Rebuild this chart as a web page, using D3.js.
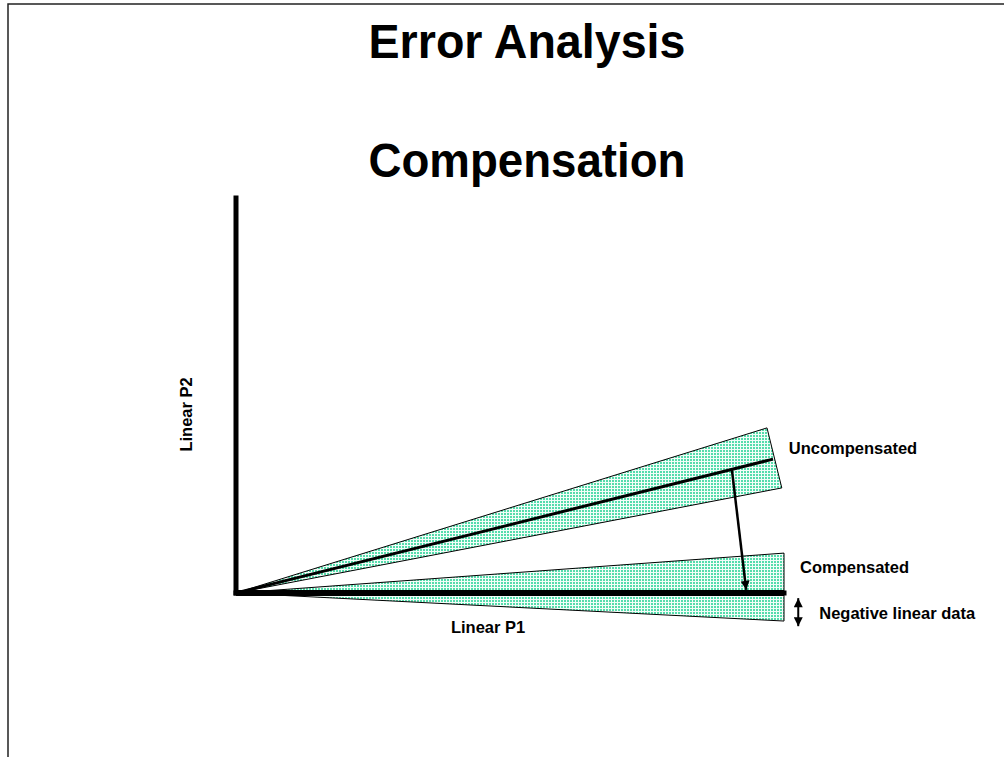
<!DOCTYPE html>
<html>
<head>
<meta charset="utf-8">
<script src="https://cdn.jsdelivr.net/npm/d3@7"></script>
<style>
    body { margin: 0; background: #fff; }
    text { font-family: "Liberation Sans", Arial, sans-serif; font-weight: bold; fill: #000; }
</style>
</head>
<body>
<div id="wrapper"></div>
<script>
// values, in chart units (P1 across, P2 up)
const titleLines = ["Error Analysis", "Compensation"];
const axisNames = ["Linear P1", "Linear P2"];
const axisX = [[0, 0], [100, 0]];
const axisY = [[0, 0], [0, 100]];
const uncompCenter = [[0, 0], [98.0, 33.9]];
const uncompBand = [[0, 0], [96.9, 41.8], [99.6, 26.6]];
const compCenter = [[0, 0], [100, 0]];
const compBand = [[0, 0], [100, 10.1], [100, -7.1]];
const shiftArrow = [[90.5, 31.1], [93.1, 0.8]];
const spreadArrow = [[102.6, -1.3], [102.6, -8.4]];
const bandLabels = ["Uncompensated", "Compensated", "Negative linear data"];

function build() {
    var dimension = {
        width: 1004,
        height: 757,
        margin: { top: 198, right: 220, bottom: 164, left: 236 }
    }

    const x = d3.scaleLinear()
        .domain([0, 100])
        .range([dimension.margin.left, dimension.width - dimension.margin.right]);

    const y = d3.scaleLinear()
        .domain([0, 100])
        .range([dimension.height - dimension.margin.bottom, dimension.margin.top]);

    const line = d3.line().x(d => x(d[0])).y(d => y(d[1]));

    const svg = d3.select("#wrapper")
        .append("svg")
        .attr("width", dimension.width)
        .attr("height", dimension.height);

    const defs = svg.append("defs");

    // stipple fill of the bands
    const pat = defs.append("pattern")
        .attr("id", "dots")
        .attr("patternUnits", "userSpaceOnUse")
        .attr("width", 3)
        .attr("height", 3);
    pat.append("rect").attr("width", 3).attr("height", 3).attr("fill", "#f2fdf8");
    pat.append("rect").attr("width", 2).attr("height", 2).attr("fill", "#55dcac");

    defs.append("marker")
        .attr("id", "head")
        .attr("viewBox", "0 0 10 10")
        .attr("refX", 10)
        .attr("refY", 5)
        .attr("markerWidth", 11)
        .attr("markerHeight", 9)
        .attr("markerUnits", "userSpaceOnUse")
        .attr("orient", "auto-start-reverse")
        .append("path")
        .attr("d", "M0,0 L10,5 L0,10 z")
        .attr("fill", "#000");

    // page frame
    svg.append("path")
        .attr("d", `M8,${dimension.height + 5} L8,4 L${dimension.width + 5},4`)
        .attr("fill", "none")
        .attr("stroke", "#222")
        .attr("stroke-width", 1.5);

    // titles (squeezed a little, like the original slide font)
    svg.selectAll(".title")
        .data(titleLines)
        .enter()
        .append("text")
        .attr("class", "title")
        .attr("x", 527)
        .attr("y", (d, i) => 58 + i * 119)
        .attr("text-anchor", "middle")
        .attr("textLength", 317)
        .attr("lengthAdjust", "spacingAndGlyphs")
        .style("font-size", "49px")
        .text(d => d);

    // bands
    svg.selectAll(".band")
        .data([uncompBand, compBand])
        .enter()
        .append("path")
        .attr("class", "band")
        .attr("d", d => line(d) + "Z")
        .attr("fill", "url(#dots)")
        .attr("stroke", "#000")
        .attr("stroke-width", 1);

    // axes
    svg.selectAll(".axis")
        .data([axisX, axisY])
        .enter()
        .append("path")
        .attr("class", "axis")
        .attr("d", line)
        .attr("stroke", "#000")
        .attr("stroke-width", 5)
        .attr("stroke-linecap", "square");

    svg.append("path")
        .attr("d", line(uncompCenter))
        .attr("stroke", "#000")
        .attr("stroke-width", 3);

    svg.append("path")
        .attr("d", line(compCenter))
        .attr("stroke", "#000")
        .attr("stroke-width", 6);

    svg.append("path")
        .attr("d", line(shiftArrow))
        .attr("stroke", "#000")
        .attr("stroke-width", 2.5)
        .attr("marker-end", "url(#head)");

    svg.append("path")
        .attr("d", line(spreadArrow))
        .attr("stroke", "#000")
        .attr("stroke-width", 2)
        .attr("marker-start", "url(#head)")
        .attr("marker-end", "url(#head)");

    // axis names
    svg.append("text")
        .attr("x", x(46))
        .attr("y", y(0) + 40)
        .attr("text-anchor", "middle")
        .style("font-size", "16.5px")
        .text(axisNames[0]);

    svg.append("text")
        .attr("transform", `translate(${x(0) - 44},${y(45.2)}) rotate(-90)`)
        .attr("text-anchor", "middle")
        .style("font-size", "16.5px")
        .text(axisNames[1]);

    // band labels
    const labelPos = [
        [x(uncompBand[2][0]) + 7, y(uncompCenter[1][1]) - 5],
        [x(compBand[1][0]) + 16, y(compBand[1][1]) + 20],
        [x(spreadArrow[0][0]) + 21, y(spreadArrow[1][1]) - 7]
    ];
    svg.selectAll(".lbl")
        .data(bandLabels)
        .enter()
        .append("text")
        .attr("class", "lbl")
        .attr("x", (d, i) => labelPos[i][0])
        .attr("y", (d, i) => labelPos[i][1])
        .style("font-size", "16.5px")
        .text(d => d);
}
build();
</script>
</body>
</html>
